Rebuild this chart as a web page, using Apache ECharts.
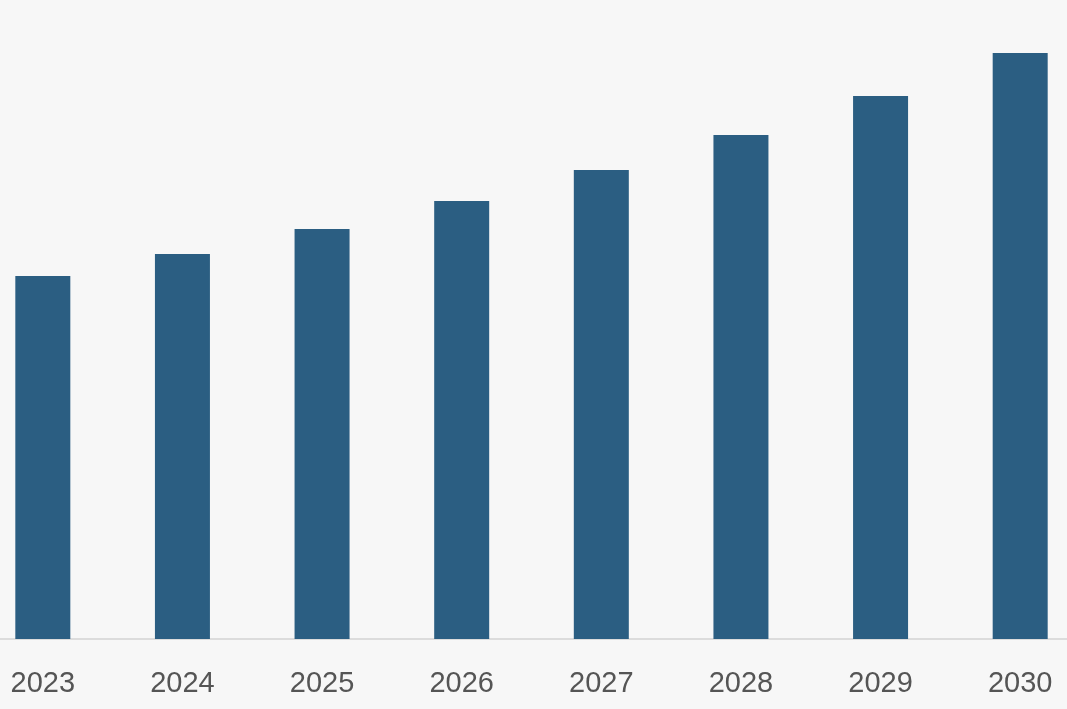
<!DOCTYPE html>
<html><head><meta charset="utf-8">
<style>html,body{margin:0;padding:0;background:#f7f7f7;overflow:hidden;width:1067px;height:709px}#c{width:1117px;height:709px;margin-left:-27px}</style>
<script src="https://cdn.jsdelivr.net/npm/echarts@6/dist/echarts.min.js"></script>
</head><body><div id="c"></div>
<script>
const categories = ['2023','2024','2025','2026','2027','2028','2029','2030'];
const values = [36.3, 38.5, 41.0, 43.8, 46.9, 50.4, 54.3, 58.6];
const chart = echarts.init(document.getElementById('c'), null, {renderer:'canvas'});
chart.setOption({
  backgroundColor:'#f7f7f7',
  animation:false,
  grid:{left:0, right:0, top:0, bottom:70, containLabel:false},
  xAxis:{type:'category', data:categories,
    axisLine:{lineStyle:{color:'#dcdcdc', width:2}},
    axisTick:{show:false},
    axisLabel:{color:'#555', fontSize:29, fontFamily:'Liberation Sans, Arial, sans-serif', margin:30}},
  yAxis:{type:'value', min:0, max:63.9, show:false, splitLine:{show:false}},
  series:[{type:'bar', data:values, barWidth:55, itemStyle:{color:'#2b5e82'}}]
});
</script></body></html>
